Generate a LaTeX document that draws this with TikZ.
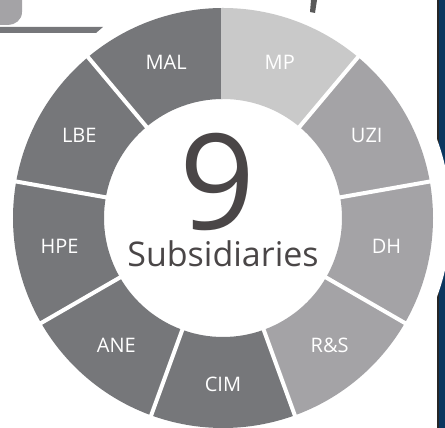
\documentclass[tikz,border=0pt]{standalone}
\usepackage{fontspec}
\setmainfont{Open Sans}
\usepackage{tikz}
\definecolor{darkseg}{HTML}{76777A}
\definecolor{midseg}{HTML}{A4A3A6}
\definecolor{lightseg}{HTML}{C9C9C9}
\definecolor{centretext}{HTML}{4A4647}
\definecolor{navyband}{HTML}{0B365F}
\tikzstyle{gap} = [draw=white,line width=4pt]

\begin{document}
\begin{tikzpicture}[x=1pt,y=1pt,
  seg label/.style={text=white,inner sep=0pt,font=\fontsize{20}{20}\selectfont},
  big nine/.style={text=centretext,inner sep=0pt,anchor=base,font=\fontsize{133}{133}\selectfont},
  subs text/.style={text=centretext,inner sep=0pt,anchor=base,font=\fontsize{34}{34}\selectfont}]

  \useasboundingbox (0,0) rectangle (445,428);

  % band on the right, cut by a white ring
  \fill[navyband] (437,0) rectangle (445,428);
  \draw[black!85,line width=1.5pt] (437.75,0) -- (437.75,428);
  \fill[white] (223,210) circle (228);

  % bits of the page above
  \fill[midseg] (0,428) -- (22,428) -- (22,416) .. controls (22,408) and (15,403) .. (8,403) -- (0,403) -- cycle;
  \fill[darkseg] (0,395) -- (96,395) -- (103,401) -- (0,401) -- cycle;
  \fill[black!65] (311,428) -- (317,428) -- (315,415) -- (310,416) -- cycle;

  \begin{scope}[shift={(223,210)}]
    \foreach \a/\col/\lab [count=\i] in {50/lightseg/MP,10/midseg/UZI,-30/midseg/DH,
        -70/midseg/R\&S,-110/darkseg/CIM,-150/darkseg/ANE,170/darkseg/HPE,
        130/darkseg/LBE,90/darkseg/MAL} {
      \pgfmathsetmacro\b{\a+40}
      \pgfmathsetmacro\m{\a+20}
      \fill[\col] (\a:210) arc[start angle=\a,end angle=\b,radius=210]
        -- (\b:119) arc[start angle=\b,end angle=\a,radius=119] -- cycle;
      \node[seg label] (seg-\i) at (\m:166) {\lab};
    }
    % dividers
    \foreach \a in {50,10,-30,-70,-110,-150,170,130}
      \path[gap] (\a:117) -- (\a:212);
    \draw[lightseg,line width=4pt] (90:119) -- (90:210);

    \node[big nine] (nine) at (-5,-12) {9};
    \node[subs text] (subs) at (0,-49) {Subsidiaries};
  \end{scope}

\end{tikzpicture}
\end{document}
